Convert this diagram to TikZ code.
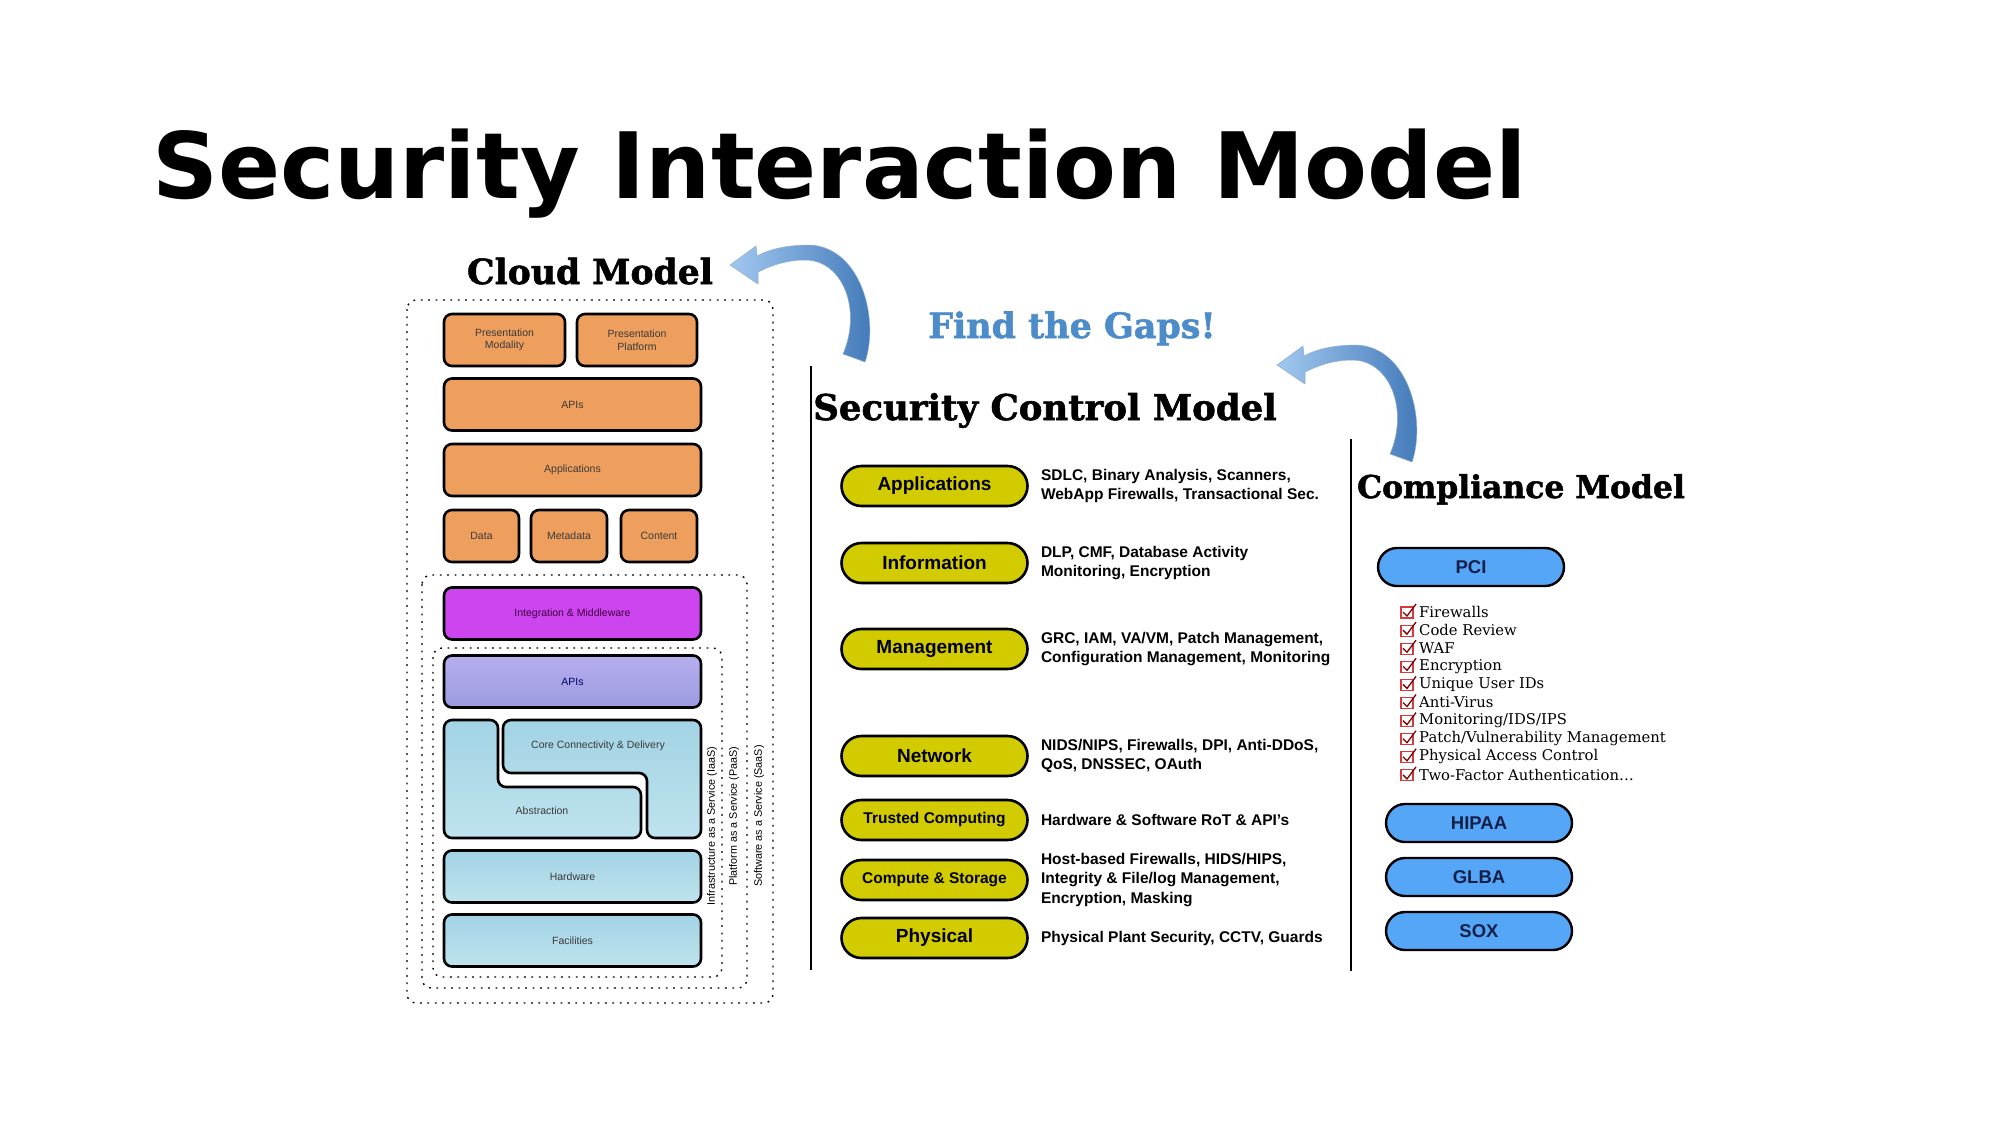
\documentclass[tikz,border=0pt]{standalone}
\usepackage{fontspec}
\setmainfont{Liberation Sans}
\newfontfamily\titlefont{DejaVu Sans}
\newfontfamily\slabfont{DejaVu Serif}[BoldFeatures={FakeBold=1.6}]
\newfontfamily\typefont{DejaVu Serif}
\usetikzlibrary{positioning}

\definecolor{boxorange}{HTML}{EE9F5E}
\definecolor{boxmagenta}{HTML}{CC45EF}
\definecolor{lavtop}{HTML}{B6AEEE}
\definecolor{lavbot}{HTML}{9C9BE0}
\definecolor{skytop}{HTML}{A2D3E4}
\definecolor{skybot}{HTML}{BFE3EE}
\definecolor{pillyellow}{HTML}{D2CB00}
\definecolor{pillblue}{HTML}{55A6F6}
\definecolor{navytext}{HTML}{14204A}
\definecolor{gapblue}{HTML}{4C8CC8}
\definecolor{arrowlight}{HTML}{A2C8F0}
\definecolor{arrowdark}{HTML}{3E76B6}
\definecolor{chkred}{HTML}{D23C3C}
\definecolor{boxtext}{HTML}{3A3A3A}

\begin{document}
\begin{tikzpicture}[x=1pt, y=-1pt,
  cloudbox/.style={draw, line width=2.6pt, rounded corners=8pt, inner sep=0pt, align=center, text=boxtext, font=\fontsize{10.5}{12.5}\selectfont, minimum height=52pt},
  orangebox/.style={cloudbox, fill=boxorange},
  skyfill/.style={draw, line width=2.6pt, rounded corners=8pt, top color=skytop, bottom color=skybot},
  skybox/.style={cloudbox, skyfill},
  layerbox/.style={draw, line width=1.4pt, dash pattern=on 1.8pt off 5.6pt, rounded corners=9pt},
  svclabel/.style={rotate=90, inner sep=0pt, font=\fontsize{10.8}{12}\selectfont},
  heading/.style={anchor=base, inner sep=0pt, font=\slabfont\bfseries\fontsize{34}{38}\selectfont},
  ctrl/.style={draw, line width=2.6pt, rounded corners=20pt, fill=pillyellow, minimum width=186pt, minimum height=40pt, inner sep=0pt, font=\bfseries\fontsize{19}{22}\selectfont},
  ctrlsmall/.style={ctrl, font=\bfseries\fontsize{15.5}{18}\selectfont},
  desc/.style={align=left, inner sep=0pt, font=\bfseries\fontsize{15.5}{19.5}\selectfont},
  comp/.style={draw, line width=2.4pt, rounded corners=19pt, fill=pillblue, minimum width=186pt, minimum height=38pt, inner sep=0pt, text=navytext, font=\bfseries\fontsize{18.5}{22}\selectfont},
  chkitem/.style={anchor=west, inner sep=0pt, font=\typefont\fontsize{14.8}{16}\selectfont},
  gaparrow/.style={left color=arrowlight, right color=arrowdark, draw=arrowdark!60, line width=0.5pt}]
\useasboundingbox (0,0) rectangle (2001,1125);

\node[anchor=base west, inner sep=0pt, font=\titlefont\bfseries\fontsize{91.6}{100}\selectfont] (title) at (152,198) {Security Interaction Model};

% cloud model
\node[heading, font=\slabfont\bfseries\fontsize{34.6}{38}\selectfont] (cloudttl) at (590,284) {Cloud Model};
\draw[layerbox] (407,300) rectangle (773,1003);
\draw[layerbox] (422,575) rectangle (747,988);
\draw[layerbox] (433,648) rectangle (722,977);

\node[orangebox, minimum width=121pt] (pmod) at (504.5,340) {Presentation\\Modality};
\node[orangebox, minimum width=120pt] (pplat) at (637,340) {Presentation\\Platform};
\node[orangebox, minimum width=257pt] (apitop) at (572.5,404.5) {APIs};
\node[orangebox, minimum width=257pt] (apps) at (572.5,470) {Applications};
\node[orangebox, minimum width=75pt] (data) at (481.5,536) {Data};
\node[orangebox, minimum width=76pt] (meta) at (569,536) {Metadata};
\node[orangebox, minimum width=76pt] (content) at (659,536) {Content};
\node[cloudbox, fill=boxmagenta, text=black!50!violet, minimum width=257pt] (integ) at (572.5,613.5) {Integration \& Middleware};
\node[cloudbox, top color=lavtop, bottom color=lavbot, text=black!60!blue, minimum width=257pt] (apimid) at (572.5,681.5) {APIs};

\draw[skyfill] (444,720) -- (498,720) -- (498,787) -- (641,787) -- (641,838) -- (444,838) -- cycle;
\draw[skyfill] (503,720) -- (701,720) -- (701,838) -- (647,838) -- (647,773) -- (503,773) -- cycle;
\node[text=boxtext, font=\fontsize{10.5}{12.5}\selectfont] (core) at (598,746) {Core Connectivity \& Delivery};
\node[text=boxtext, font=\fontsize{10.5}{12.5}\selectfont] (abstr) at (542,811) {Abstraction};

\node[skybox, minimum width=257pt] (hw) at (572.5,876.5) {Hardware};
\node[skybox, minimum width=257pt] (fac) at (572.5,940.5) {Facilities};

\node[svclabel] (iaas) at (712,826) {Infrastructure as a Service (IaaS)};
\node[svclabel] (paas) at (734,816) {Platform as a Service (PaaS)};
\node[svclabel] (saas) at (759,816) {Software as a Service (SaaS)};

% arrows
\path[gaparrow] (865,362) .. controls (880,318) and (860,243) .. (805,245) .. controls (782,246) and (768,250) .. (757,256) -- (756,246) -- (730,265) -- (758,284) -- (758,272) .. controls (772,265) and (787,260) .. (805,260) .. controls (843,260) and (862,310) .. (843,354) -- cycle;
\begin{scope}[shift={(547,100)}]
\path[gaparrow] (865,362) .. controls (880,318) and (860,243) .. (805,245) .. controls (782,246) and (768,250) .. (757,256) -- (756,246) -- (730,265) -- (758,284) -- (758,272) .. controls (772,265) and (787,260) .. (805,260) .. controls (843,260) and (862,310) .. (843,354) -- cycle;
\end{scope}

% security control model
\node[heading, text=gapblue, font=\slabfont\bfseries\fontsize{34.9}{38}\selectfont] (gaps) at (1072,338) {Find the Gaps!};
\node[heading, font=\slabfont\bfseries\fontsize{35.5}{38}\selectfont] (secttl) at (1045,420) {Security Control Model};
\draw[line width=2.5pt] (811,366) -- (811,970);

\node[ctrl] (app) at (934.5,486) {Applications};
\node[ctrl] (info) at (934.5,563) {Information};
\node[ctrl] (mgmt) at (934.5,649) {Management};
\node[ctrl] (net) at (934.5,756) {Network};
\node[ctrlsmall] (trust) at (934.5,820) {Trusted Computing};
\node[ctrlsmall] (cstore) at (934.5,880) {Compute \& Storage};
\node[ctrl] (phys) at (934.5,938) {Physical};

\node[desc, right=12pt of app] (appd) {SDLC, Binary Analysis, Scanners,\\WebApp Firewalls, Transactional Sec.};
\node[desc, right=12pt of info] (infod) {DLP, CMF, Database Activity\\Monitoring, Encryption};
\node[desc, right=12pt of mgmt] (mgmtd) {GRC, IAM, VA/VM, Patch Management,\\Configuration Management, Monitoring};
\node[desc, right=12pt of net] (netd) {NIDS/NIPS, Firewalls, DPI, Anti-DDoS,\\QoS, DNSSEC, OAuth};
\node[desc, right=12pt of trust] (trustd) {Hardware \& Software RoT \& API's};
\node[desc, right=12pt of cstore] (cstored) {Host-based Firewalls, HIDS/HIPS,\\Integrity \& File/log Management,\\Encryption, Masking};
\node[desc, right=12pt of phys] (physd) {Physical Plant Security, CCTV, Guards};

% compliance model
\node[heading, font=\slabfont\bfseries\fontsize{31.4}{38}\selectfont] (compttl) at (1521,498) {Compliance Model};
\draw[line width=2.5pt] (1351,439) -- (1351,971);
\node[comp] (pci) at (1471,567) {PCI};
\foreach \req [count=\i from 0] in {Firewalls, Code Review, WAF, Encryption, Unique User IDs, Anti-Virus, Monitoring/IDS/IPS, Patch/Vulnerability Management, Physical Access Control, {Two-Factor Authentication\ldots}}{
  \pgfmathsetmacro\yy{612+18.1*\i}
  \draw[chkred, line width=1.1pt, fill=white] (1401,\yy-5) rectangle (1413,\yy+6);
  \draw[black!50!red, line width=1.3pt] (1403,\yy) -- (1407,\yy+4) -- (1416,\yy-8);
  \node[chkitem] (req\i) at (1419,\yy) {\req};
}
\node[comp] (hipaa) at (1479,823) {HIPAA};
\node[comp] (glba) at (1479,877) {GLBA};
\node[comp] (sox) at (1479,931) {SOX};
\end{tikzpicture}
\end{document}
